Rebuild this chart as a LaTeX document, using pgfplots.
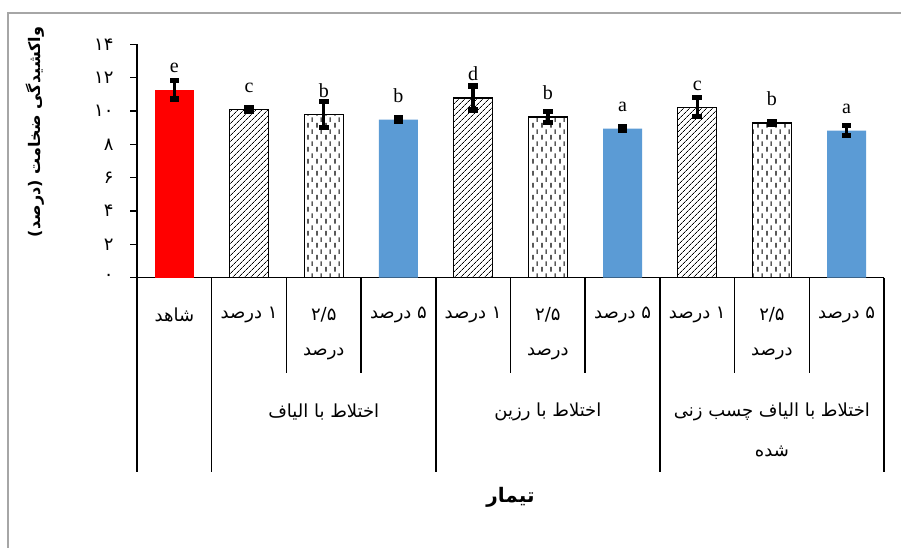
\documentclass[border=0pt]{standalone}
\usepackage{fontspec}
\usepackage{pgfplots}
\pgfplotsset{compat=1.18}
\usetikzlibrary{patterns.meta}
\setmainfont{Liberation Serif}
\newfontfamily\arabicfont[Script=Arabic]{DejaVu Sans}
\TeXXeTstate=1
\newcommand\fa[1]{\beginR #1\endR}
\definecolor{barblue}{HTML}{5B9BD5}

% vertical dashed fill, columns offset by half a period
\pgfdeclarepattern{
  name=vdashes, type=uncolored,
  bottom left={\pgfpoint{0pt}{0pt}}, top right={\pgfpoint{9pt}{12pt}},
  tile size={\pgfpoint{9pt}{12pt}},
  code={
    \pgfsetlinewidth{1.2pt}
    \pgfpathmoveto{\pgfpoint{2.25pt}{0.5pt}}\pgfpathlineto{\pgfpoint{2.25pt}{5.5pt}}
    \pgfpathmoveto{\pgfpoint{6.75pt}{6.5pt}}\pgfpathlineto{\pgfpoint{6.75pt}{11.5pt}}
    \pgfusepath{stroke}
  }
}
% solid block used as error bar cap
\pgfdeclareplotmark{capbar}{%
  \pgfpathrectangle{\pgfqpoint{-\pgfplotmarksize}{-2.6pt}}{\pgfqpoint{2\pgfplotmarksize}{5.2pt}}%
  \pgfusepathqfill}

\begin{document}
\begin{tikzpicture}
\useasboundingbox (0,0) rectangle (901pt,548pt);
\fill[white] (0,0) rectangle (901pt,548pt);
\draw[gray!70, line width=1.6pt] (8pt,0pt) -- (8pt,535pt) -- (901pt,535pt);
\begin{axis}[
  at={(137pt,270.3pt)}, anchor=south west,
  scale only axis, width=747pt, height=233.4pt,
  xmin=-0.5, xmax=9.5, ymin=0, ymax=14,
  axis x line=bottom, axis y line=left,
  axis line style={-, line width=1.5pt, black},
  xtick=\empty,
  ytick={0,2,...,14},
  yticklabels={۰,۲,۴,۶,۸,۱۰,۱۲,۱۴},
  yticklabel style={font=\arabicfont\fontsize{18}{20}\selectfont, xshift=-13pt},
  tick align=outside, major tick length=7pt,
  tick style={line width=1.5pt, black},
  ybar, bar width=39pt, bar shift=0pt,
  clip=false,
  error bars/y dir=both, error bars/y explicit,
  error bars/error mark=capbar,
  error bars/error bar style={line width=3.4pt, black},
  error bars/error mark options={rotate=90, mark size=4.8pt, black, fill=black},
  nodes near coords, point meta=explicit symbolic,
  every node near coord/.append style={font=\fontsize{20}{22}\selectfont, anchor=base, yshift=17pt, black},
]
% control
\addplot[fill=red, draw=none] table[x=x,y=y,y error=e,meta=l]{
x y e l
0 11.28 0.56 e
};
% 1 percent
\addplot[draw=black, line width=1.3pt, pattern={Lines[angle=45,distance=4pt,line width=0.7pt]}] table[x=x,y=y,y error=e,meta=l]{
x y e l
1 10.08 0.10 c
4 10.78 0.72 d
7 10.22 0.57 c
};
% 2.5 percent
\addplot[draw=black, line width=1.3pt, pattern=vdashes] table[x=x,y=y,y error=e,meta=l]{
x y e l
2 9.78 0.77 b
5 9.64 0.35 b
8 9.28 0.10 b
};
% 5 percent
\addplot[fill=barblue, draw=none] table[x=x,y=y,y error=e,meta=l]{
x y e l
3 9.48 0.12 b
6 8.94 0.12 a
9 8.82 0.30 a
};

% category separators
\draw[line width=1.5pt] (axis cs:-0.5,0) -- ++(0pt,-194pt);
\draw[line width=1.5pt] (axis cs:0.5,0) -- ++(0pt,-194pt);
\draw[line width=1.5pt] (axis cs:3.5,0) -- ++(0pt,-194pt);
\draw[line width=1.5pt] (axis cs:6.5,0) -- ++(0pt,-194pt);
\draw[line width=1.5pt] (axis cs:9.5,0) -- ++(0pt,-194pt);
\draw[line width=1.5pt] (axis cs:1.5,0) -- ++(0pt,-95pt);
\draw[line width=1.5pt] (axis cs:2.5,0) -- ++(0pt,-95pt);
\draw[line width=1.5pt] (axis cs:4.5,0) -- ++(0pt,-95pt);
\draw[line width=1.5pt] (axis cs:5.5,0) -- ++(0pt,-95pt);
\draw[line width=1.5pt] (axis cs:7.5,0) -- ++(0pt,-95pt);
\draw[line width=1.5pt] (axis cs:8.5,0) -- ++(0pt,-95pt);

% category labels
\begin{scope}[every node/.style={font=\arabicfont\fontsize{18}{20}\selectfont, inner sep=0pt}]
\node at ([yshift=-37pt]axis cs:0,0) {\fa{شاهد}};
\node at ([yshift=-37pt]axis cs:1,0) {\fa{۱ درصد}};
\node at ([yshift=-37pt]axis cs:2,0) {۲/۵};
\node at ([yshift=-76pt]axis cs:2,0) {\fa{درصد}};
\node at ([yshift=-37pt]axis cs:3,0) {\fa{۵ درصد}};
\node at ([yshift=-37pt]axis cs:4,0) {\fa{۱ درصد}};
\node at ([yshift=-37pt]axis cs:5,0) {۲/۵};
\node at ([yshift=-76pt]axis cs:5,0) {\fa{درصد}};
\node at ([yshift=-37pt]axis cs:6,0) {\fa{۵ درصد}};
\node at ([yshift=-37pt]axis cs:7,0) {\fa{۱ درصد}};
\node at ([yshift=-37pt]axis cs:8,0) {۲/۵};
\node at ([yshift=-76pt]axis cs:8,0) {\fa{درصد}};
\node at ([yshift=-37pt]axis cs:9,0) {\fa{۵ درصد}};
\node at ([yshift=-134pt]axis cs:2,0) {\fa{اختلاط با الیاف}};
\node at ([yshift=-134pt]axis cs:5,0) {\fa{اختلاط با رزین}};
\node at ([yshift=-134pt]axis cs:8,0) {\fa{اختلاط با الیاف چسب زنی}};
\node at ([yshift=-174pt]axis cs:8,0) {\fa{شده}};
\end{scope}
\end{axis}
\node[rotate=90, font=\arabicfont\bfseries\fontsize{16}{18}\selectfont] at (35pt,416pt) {\fa{واکشیدگی ضخامت (درصد)}};
\node[font=\arabicfont\bfseries\fontsize{20}{22}\selectfont] at (510.5pt,51pt) {\fa{تیمار}};
\end{tikzpicture}
\end{document}
